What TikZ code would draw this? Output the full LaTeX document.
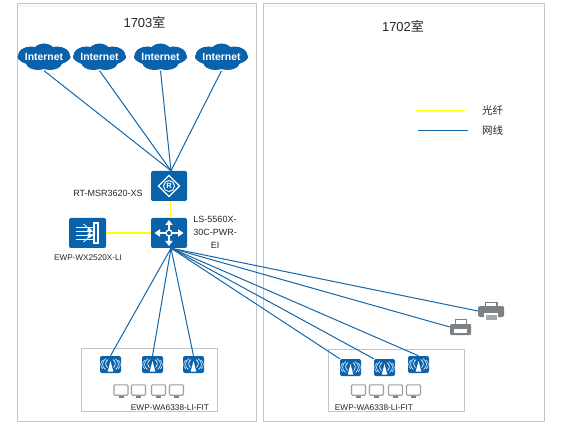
\documentclass[tikz,border=0pt]{standalone}
\usepackage{fontspec}
\setmainfont{Liberation Sans}
\newfontfamily\cjk{Noto Sans CJK SC}
\usetikzlibrary{calc}
\definecolor{hblue}{HTML}{0A62AB}
\definecolor{wire}{HTML}{1566A8}
\definecolor{fibre}{HTML}{FFFF00}
\definecolor{edge}{HTML}{C2C6CA}
\definecolor{grayic}{HTML}{7D8084}
\tikzset{
  x=1pt,y=-1pt,
  room/.style={draw=edge,line width=1pt,fill=white},
  group/.style={draw=edge,line width=0.9pt},
  cable/.style={draw=wire,line width=1pt},
  fib/.style={draw=fibre,line width=1.4pt},
  device/.style={fill=hblue,rounded corners=2pt,minimum width=36pt,minimum height=30pt,inner sep=0pt},
  apbox/.style={fill=hblue,rounded corners=2pt,minimum width=21pt,minimum height=17pt,inner sep=0pt},
  cloudtxt/.style={text=white,font=\fontsize{10.4}{11}\selectfont\bfseries,inner sep=0pt,minimum width=52pt,minimum height=27pt},
  lab/.style={font=\fontsize{9}{13}\selectfont,inner sep=0pt,align=center,text=black!85},
  wht/.style={draw=white,line width=1.3pt},
}
\newcommand{\cloudat}[3]{%
  \begin{scope}[shift={(#2,#3)}]
    \fill[hblue] (0,0) ellipse [x radius=26.5,y radius=8.5];
    \fill[hblue] (-13,-1.5) ellipse [x radius=13,y radius=9];
    \fill[hblue] (13,-1.5) ellipse [x radius=13,y radius=9];
    \fill[hblue] (0,-5) ellipse [x radius=11,y radius=8.5];
    \fill[hblue] (-6,6) ellipse [x radius=12,y radius=7];
    \fill[hblue] (6,6) ellipse [x radius=12,y radius=7];
  \end{scope}
  \node[cloudtxt] (#1) at (#2,#3) {Internet};}
\newcommand{\apat}[3]{%
  \node[apbox] (#1) at (#2,#3) {};
  \begin{scope}[shift={(#2,#3)}]
    \fill[white] (0,-3.5) -- (2.8,7) -- (-2.8,7) -- cycle;
    \draw[white,line width=0.7pt] (-2.5,-5) .. controls (-5.5,-3) and (-5.5,1) .. (-3,3);
    \draw[white,line width=0.7pt] (2.5,-5) .. controls (5.5,-3) and (5.5,1) .. (3,3);
    \draw[white,line width=0.6pt] (-4.5,-6) .. controls (-9,-3) and (-9,2) .. (-5,5);
    \draw[white,line width=0.6pt] (4.5,-6) .. controls (9,-3) and (9,2) .. (5,5);
    \draw[white,line width=0.5pt] (-7.5,-4.5) .. controls (-10.5,-2) and (-10.5,2) .. (-7.5,4.5);
    \draw[white,line width=0.5pt] (7.5,-4.5) .. controls (10.5,-2) and (10.5,2) .. (7.5,4.5);
  \end{scope}}
\newcommand{\screenat}[2]{%
  \begin{scope}[shift={(#1,#2)}]
    \fill[grayic] (-2.5,5.8) rectangle (2.5,8);
    \draw[black!38,fill=white,line width=1.1pt,rounded corners=1pt] (-7,-5.2) rectangle (7,5.2);
  \end{scope}}
\begin{document}
\begin{tikzpicture}
\useasboundingbox (0,0) rectangle (579,433);
\fill[white] (0,0) rectangle (579,433);
% rooms
\draw[room] (17.5,4) rectangle (256,421);
\draw[room] (263.5,4) rectangle (544.5,421);
\fill[blue!4] (18,4.6) rectangle (255.5,7);
\fill[blue!4] (264,4.6) rectangle (544,7);
\node[lab,font=\fontsize{13}{15}\selectfont] (t1) at (144.5,22) {1703{\cjk 室}};
\node[lab,font=\fontsize{13}{15}\selectfont] (t2) at (403,26) {1702{\cjk 室}};
% groups
\draw[group] (81.5,348) rectangle (217,411);
\draw[group] (328.5,349) rectangle (464,411);
% clouds
\cloudat{c1}{44}{57}
\cloudat{c2}{99.5}{57}
\cloudat{c3}{160.5}{57}
\cloudat{c4}{221.5}{57}
% devices
\node[device] (rt) at (169,186) {};
\node[device] (sw) at (169,233) {};
\node[device,minimum width=37pt] (wx) at (87.5,233) {};
% access points
\apat{a1}{110.5}{364.5}
\apat{a2}{152.5}{364.5}
\apat{a3}{193.5}{364.5}
\apat{a4}{350.5}{367.5}
\apat{a5}{384.5}{367.5}
\apat{a6}{418.5}{364.5}
% printers
\node[inner sep=0pt,minimum width=26pt,minimum height=20pt] (p1) at (491,311) {};
\node[inner sep=0pt,minimum width=21pt,minimum height=16pt] (p2) at (460.5,327) {};
% connectors
\coordinate (rtin) at ([xshift=2pt]rt.north);
\coordinate (swout) at ([xshift=2pt]sw.south);
\draw[cable] (c1.south) -- (rtin);
\draw[cable] (c2.south) -- (rtin);
\draw[cable] (c3.south) -- (rtin);
\draw[cable] (c4.south) -- (rtin);
\draw[fib] ([xshift=1.7pt]rt.south) -- ([xshift=1.7pt]sw.north);
\draw[fib] (wx.east) -- (sw.west);
\draw[cable] (swout) -- (a1.north);
\draw[cable] (swout) -- (a2.north);
\draw[cable] (swout) -- (a3.north);
\draw[cable] (swout) -- (a4.north west);
\draw[cable] (swout) -- (a5.north west);
\draw[cable] (swout) -- (a6.north);
\draw[cable] (swout) -- (p2.west);
\draw[cable] (swout) -- (p1.west);
% router glyph
\begin{scope}[shift={(rt.center)}]
  \draw[wht] (0,-10.5) -- (10.5,0) -- (0,10.5) -- (-10.5,0) -- cycle;
  \draw[white,line width=1pt] (0,0) circle [radius=5.5];
  \node[text=white,font=\fontsize{7.5}{8}\selectfont\bfseries,inner sep=0pt] (rtR) at (0,0) {R};
\end{scope}
% switch glyph
\begin{scope}[shift={(sw.center)}]
  \draw[white,line width=2pt] (0,-2) -- (0,-9) (3,0) -- (10,0) (-3,0) -- (-10,0) (0,3) -- (0,8);
  \fill[white] (0,-13) -- (3.8,-8) -- (-3.8,-8) -- cycle;
  \fill[white] (14.5,0) -- (9,3.8) -- (9,-3.8) -- cycle;
  \fill[white] (-14.5,0) -- (-9,3.8) -- (-9,-3.8) -- cycle;
  \fill[white] (0,13) -- (3.8,8) -- (-3.8,8) -- cycle;
  \draw[white,line width=1.2pt,fill=hblue] (0,0) circle [radius=3];
\end{scope}
% controller glyph
\begin{scope}[shift={(wx.center)}]
  \fill[white] (5,-11) rectangle (11,11);
  \fill[hblue] (7,-9) rectangle (9.5,9);
  \draw[white,line width=0.8pt] (-12,-6) -- (5,-6) (-12,-2) -- (5,-2) (-12,2) -- (5,2) (-12,6) -- (5,6);
  \draw[white,line width=0.8pt] (-4,-9) -- (5,-1) (-4,9) -- (5,1);
  \fill[white] (2,-2.5) circle [radius=2.3];
  \fill[white] (2,2.5) circle [radius=2.3];
\end{scope}
% screens
\foreach \sx in {121,138.5,158.5,176.5}{\screenat{\sx}{390}}
\foreach \sx in {358.5,376.5,395.5,413.5}{\screenat{\sx}{390}}
% printers glyph
\begin{scope}[shift={(p1.center)}]
  \fill[grayic] (-6.5,-9.5) rectangle (6.5,-4);
  \fill[grayic,rounded corners=1.5pt] (-13,-5) rectangle (13,6);
  \fill[white] (-5,-8) rectangle (5,-5);
  \fill[white] (-7,2) rectangle (7,10);
  \fill[grayic!70] (-5.5,3.5) rectangle (5.5,8.5);
\end{scope}
\begin{scope}[shift={(p2.center)}]
  \draw[grayic,fill=white,line width=0.8pt] (-5.5,-8) rectangle (5.5,-2);
  \fill[grayic,rounded corners=1pt] (-10.5,-3) rectangle (10.5,8);
  \fill[white] (-6.5,2) rectangle (6.5,5.5);
\end{scope}
% labels
\node[lab] (lrt) at (108,193) {RT-MSR3620-XS};
\node[lab,font=\fontsize{8.2}{10}\selectfont] (lwx) at (88,257.5) {EWP-WX2520X-LI};
\node[lab] (lsw) at (215,232) {LS-5560X-\\30C-PWR-\\EI};
\node[lab,font=\fontsize{8.3}{9}\selectfont] (lw1) at (170,408) {EWP-WA6338-LI-FIT};
\node[lab,font=\fontsize{8.3}{9}\selectfont] (lw2) at (374,408) {EWP-WA6338-LI-FIT};
% legend
\coordinate (y1) at (416,110.3);
\coordinate (y2) at (465,110.3);
\coordinate (b1) at (418,130.7);
\coordinate (b2) at (468,130.7);
\draw[fib] (y1) -- (y2);
\draw[cable] (b1) -- (b2);
\node[lab,font=\fontsize{10.5}{12}\cjk] (lg1) at (492.5,111) {光纤};
\node[lab,font=\fontsize{10.5}{12}\cjk] (lg2) at (492.5,130) {网线};
\end{tikzpicture}
\end{document}
